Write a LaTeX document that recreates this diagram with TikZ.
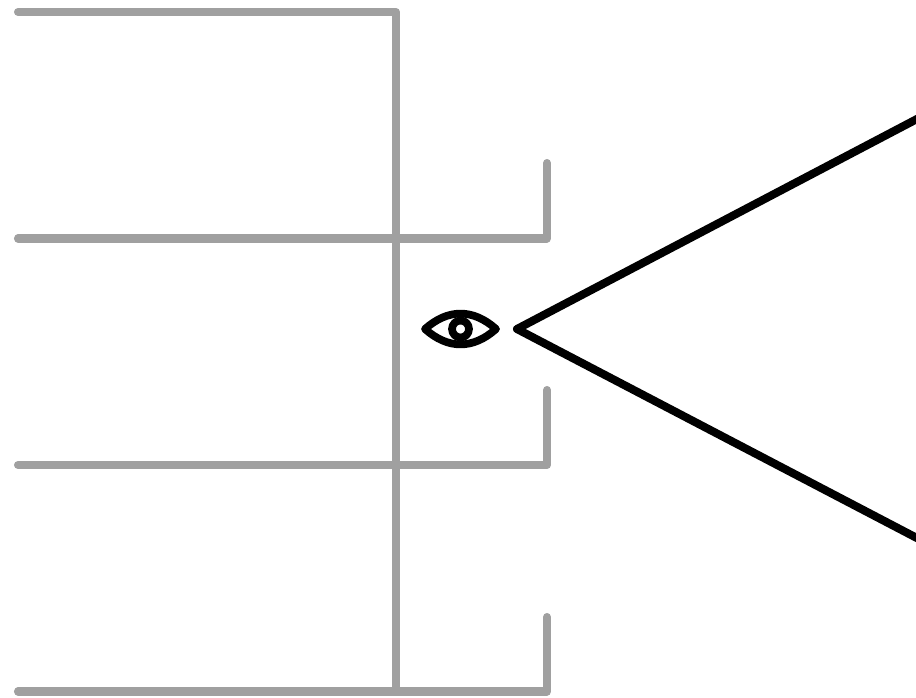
\documentclass[tikz,border=0pt]{standalone}
\usepackage{xcolor}
\definecolor{railgray}{HTML}{A0A0A0}
\tikzset{
  rail/.style={draw=railgray, line width=4.6pt, line cap=round, line join=round},
  sight/.style={draw=black, line width=4.6pt, line cap=round, line join=round},
  eyeline/.style={draw=black, line width=4.4pt, line join=round},
}
\begin{document}
\begin{tikzpicture}[x=0.02cm, y=-0.02cm]
    \clip (0,0) rectangle (916,697);
    % rails
    \coordinate (topleft) at (18,12);
    \coordinate (topright) at (396,12);
    \coordinate (spineend) at (396,691.5);
    \draw[rail] (topleft) -- (topright) -- (spineend);
    \foreach \name/\ya/\yb in {upper/238.5/163, middle/465/390, lower/691.5/617} {
      \coordinate (\name left) at (18,\ya);
      \coordinate (\name corner) at (547,\ya);
      \coordinate (\name tip) at (547,\yb);
      \draw[rail] (\name left) -- (\name corner) -- (\name tip);
    }
    % field of view
    \coordinate (apex) at (517,329);
    \coordinate (viewup) at (936,109);
    \coordinate (viewdown) at (936,548);
    \draw[sight] (viewup) -- (apex) -- (viewdown);
    % eye
    \coordinate (eyeleft) at (425,329);
    \coordinate (eyeright) at (496,329);
    \coordinate (pupil) at (460.5,329);
    \draw[eyeline] (eyeleft) .. controls (448,308.5) and (473,308.5) .. (eyeright)
      .. controls (473,349.5) and (448,349.5) .. cycle;
    \draw[eyeline] (pupil) circle (8.5);
\end{tikzpicture}
\end{document}
